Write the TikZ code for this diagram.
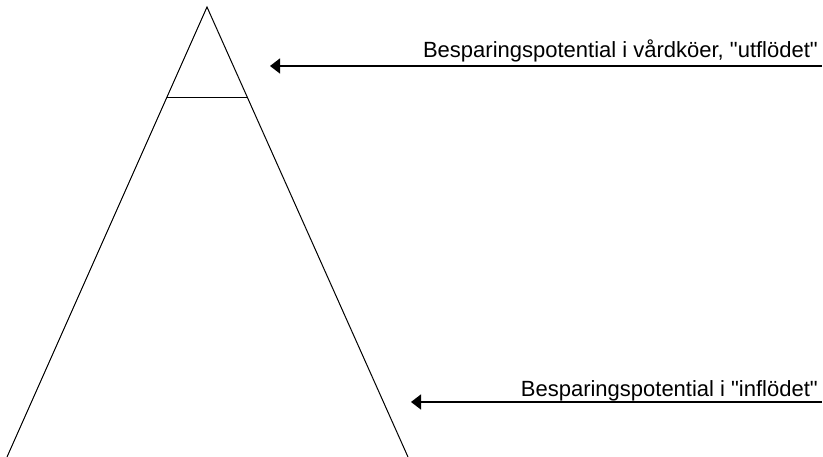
\documentclass[tikz,border=0pt]{standalone}
\usepackage{fontspec}
\setmainfont{Liberation Sans}[Ligatures=TeXOff]
\usepackage{tikz}
\usetikzlibrary{calc,arrows.meta,positioning}
\tikzset{
  leg/.style={line width=1pt,black},
  ar/.style={{Triangle[length=10pt,width=15pt]}-,line width=1.3pt,black},
  lbl/.style={font=\fontsize{22}{25}\selectfont,inner sep=0pt,anchor=base east}
}
\begin{document}
\begin{tikzpicture}[x=1pt,y=1pt]
\useasboundingbox (0,0) rectangle (823,457);
\coordinate (apex) at (207,450);
\coordinate (bl) at (7,0);
\coordinate (br) at (408,0);
\draw[leg] (bl)--(apex)--(br);
\draw[leg] ($(apex)!0.202!(bl)$)--($(apex)!0.202!(br)$);
% arrows and texts
\coordinate (tip1) at (270,391);
\coordinate (end1) at (822,391);
\coordinate (tip2) at (411,55);
\coordinate (end2) at (822,55);
\draw[ar] (tip1)--(end1);
\draw[ar] (tip2)--(end2);
\node[lbl] (ut) at (818,399) {Besparingspotential i vårdköer, "utflödet"};
\node[lbl] (in) at (818,60.5) {Besparingspotential i "inflödet"};
\end{tikzpicture}
\end{document}
